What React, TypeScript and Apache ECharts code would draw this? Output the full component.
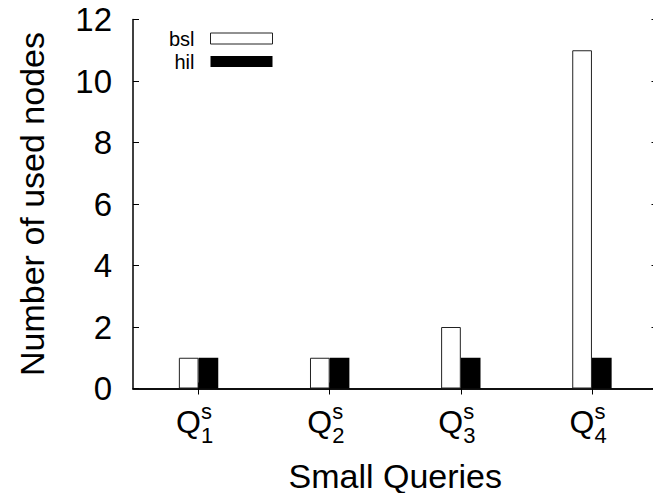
import React, { useEffect, useRef } from "react";
import * as echarts from "echarts";

// Query indices shown as Q^s_i on the x axis
const queries = ["1", "2", "3", "4"];
// Number of used nodes per query
const bsl = [1, 1, 2, 11];
const hil = [1, 1, 1, 1];
// Y axis range and step
const yMin = 0;
const yMax = 12;
const yStep = 2;

const FONT = "'Liberation Sans', Arial, Helvetica, sans-serif";

export default function App() {
  const ref = useRef<HTMLDivElement>(null);

  useEffect(() => {
    if (!ref.current) return;
    const chart = echarts.init(ref.current, undefined, { renderer: "svg" });

    const axisLine = { show: true, lineStyle: { color: "#000", width: 1.5 } };
    const tick = {
      show: true,
      inside: true,
      length: 6,
      alignWithLabel: true,
      lineStyle: { color: "#000", width: 1 },
    };

    chart.setOption({
      animation: false,
      textStyle: { fontFamily: FONT },
      grid: {
        left: 133,
        right: -4.5,
        top: 19.5,
        bottom: 104.5,
        containLabel: false,
        outerBoundsMode: "none",
      },
      legend: {
        orient: "vertical",
        align: "right",
        right: 380,
        top: 28.5,
        padding: 0,
        itemGap: 3,
        itemWidth: 62,
        itemHeight: 11,
        icon: "rect",
        textStyle: {
          fontSize: 20,
          lineHeight: 20,
          color: "#000",
          fontFamily: FONT,
          padding: [0, 11, 0, 0],
        },
        data: [
          { name: "bsl", itemStyle: { color: "#fff", borderColor: "#222", borderWidth: 1 } },
          { name: "hil", itemStyle: { color: "#000", borderWidth: 0 } },
        ],
      },
      xAxis: [
        {
          type: "category",
          data: queries,
          position: "bottom",
          axisLine,
          axisTick: tick,
          axisLabel: {
            margin: 21,
            lineHeight: 24,
            color: "#000",
            formatter: (v: string) => `{q|Q}{sup|s}\n{gap| }{sub|${v}}`,
            rich: {
              q: { fontSize: 32, width: 25, lineHeight: 24, align: "left", color: "#000", fontFamily: FONT },
              sup: {
                fontSize: 22,
                width: 20,
                lineHeight: 24,
                align: "left",
                padding: [0, 0, 21, 0],
                color: "#000",
                fontFamily: FONT,
              },
              gap: { fontSize: 22, width: 25, lineHeight: 24, align: "left", fontFamily: FONT },
              sub: {
                fontSize: 22,
                width: 20,
                lineHeight: 24,
                align: "left",
                padding: [0, 0, 21, 0],
                color: "#000",
                fontFamily: FONT,
              },
            },
          },
          name: "Small Queries",
          nameLocation: "middle",
          nameGap: 70,
          nameMoveOverlap: false,
          nameTextStyle: { fontSize: 34, color: "#000", fontFamily: FONT },
        },
        {
          type: "category",
          data: queries,
          position: "top",
          axisLine,
          axisTick: tick,
          axisLabel: { show: false },
        },
      ],
      yAxis: [
        {
          type: "value",
          min: yMin,
          max: yMax,
          interval: yStep,
          position: "left",
          splitLine: { show: false },
          axisLine,
          axisTick: { show: true, inside: true, length: 6, lineStyle: { color: "#000", width: 1 } },
          axisLabel: { margin: 21, fontSize: 33, color: "#000", fontFamily: FONT },
          name: "Number of used nodes",
          nameLocation: "middle",
          nameGap: 84,
          nameMoveOverlap: false,
          nameTextStyle: { fontSize: 34, color: "#000", fontFamily: FONT },
        },
        {
          type: "value",
          min: yMin,
          max: yMax,
          interval: yStep,
          position: "right",
          splitLine: { show: false },
          axisLine,
          axisTick: { show: true, inside: true, length: 6, lineStyle: { color: "#000", width: 1 } },
          axisLabel: { show: false },
        },
      ],
      series: [
        {
          name: "bsl",
          type: "bar",
          data: bsl,
          barWidth: 19.7,
          barGap: "0%",
          itemStyle: { color: "#fff", borderColor: "#222", borderWidth: 1 },
        },
        {
          name: "hil",
          type: "bar",
          data: hil,
          barWidth: 19.7,
          barGap: "0%",
          itemStyle: { color: "#000" },
        },
      ],
    });

    return () => chart.dispose();
  }, []);

  return (
    <div
      ref={ref}
      style={{ position: "absolute", left: 0, top: 0, width: 653, height: 493, background: "#fff" }}
    />
  );
}
